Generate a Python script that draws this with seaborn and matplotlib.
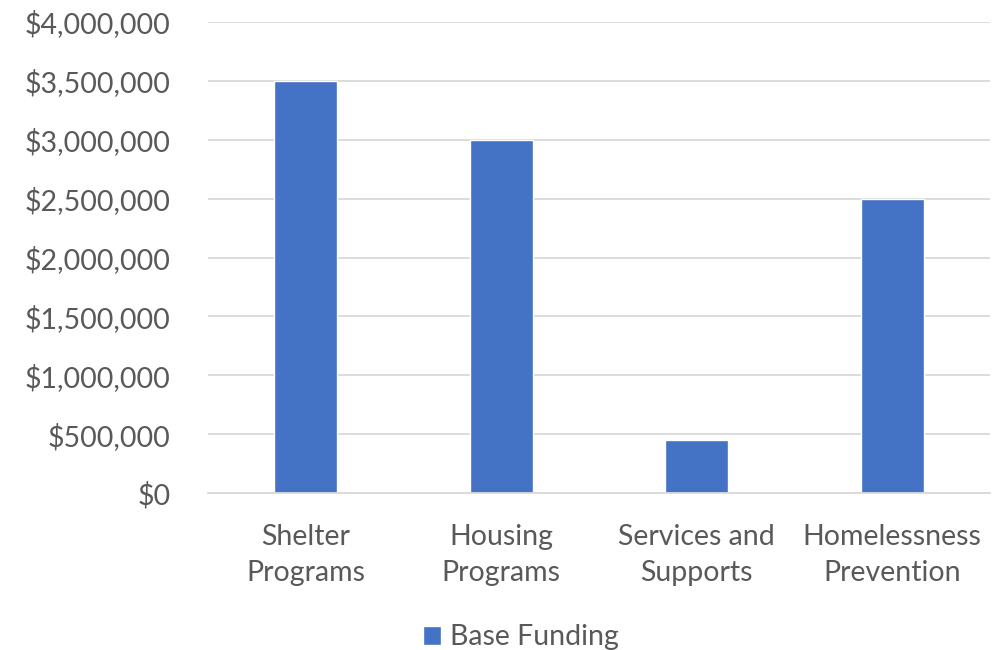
import pandas as pd
import matplotlib.pyplot as plt
import seaborn as sns
from matplotlib.ticker import FuncFormatter, MultipleLocator

# Chart data
categories = ["Shelter\nPrograms", "Housing\nPrograms", "Services and\nSupports", "Homelessness\nPrevention"]
base_funding = [3500000, 3000000, 450000, 2500000]
series_name = "Base Funding"

df = pd.DataFrame({"category": categories, "value": base_funding, "series": series_name})

sns.set_theme(style="white")
plt.rcParams['font.family'] = ['Lato', 'DejaVu Sans']
text_color = "#595959"
grid_color = "#D9D9D9"
fsize = 20.5

fig = plt.figure(figsize=(10, 6.5), dpi=100)
ax = fig.add_axes([0.208, 0.2415, 0.782, 0.7246])

sns.barplot(data=df, x="category", y="value", hue="series", palette=["#4472C4"],
            width=0.32, ax=ax, legend=True, saturation=1)

ax.set_ylim(0, 4000000)
ax.yaxis.set_major_locator(MultipleLocator(500000))
ax.yaxis.set_major_formatter(FuncFormatter(lambda v, p: f"${v:,.0f}"))
ax.yaxis.grid(True, color=grid_color, linewidth=1.3)
ax.set_axisbelow(True)

for s in ["top", "right", "left"]:
    ax.spines[s].set_visible(False)
ax.spines["bottom"].set_color(grid_color)
ax.spines["bottom"].set_linewidth(1.3)

ax.tick_params(axis="both", length=0, labelsize=fsize, colors=text_color)
ax.tick_params(axis="y", pad=27)
ax.tick_params(axis="x", pad=22)
for lbl in ax.get_xticklabels():
    lbl.set_linespacing(1.5)
ax.set_xlabel("")
ax.set_ylabel("")

ax.legend(loc="upper center", bbox_to_anchor=(0.40, -0.279), frameon=False,
          fontsize=fsize, labelcolor=text_color, handlelength=0.65, handleheight=0.65,
          handletextpad=0.3, borderaxespad=0, borderpad=0)

fig.savefig("out.png", dpi=100)
